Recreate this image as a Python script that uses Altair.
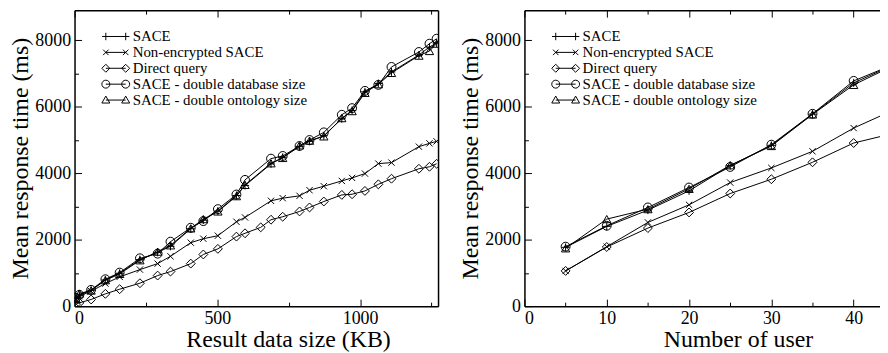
import altair as alt
import pandas as pd

FONT = "Liberation Serif"

SERIES = [
    "SACE",
    "Non-encrypted SACE",
    "Direct query",
    "SACE - double database size",
    "SACE - double ontology size",
]

# ---------- left panel: result data size (KB) ----------
kb_sace = [5, 17, 58, 108, 158, 229, 291, 336, 407, 451, 502, 567, 597, 688, 729, 788, 823, 873, 936, 972, 1017, 1064, 1110, 1206, 1243, 1268]
ms_sace = [230, 330, 480, 790, 990, 1400, 1620, 1800, 2330, 2590, 2860, 3330, 3630, 4280, 4480, 4800, 4960, 5130, 5640, 5890, 6450, 6700, 7050, 7560, 7800, 7920]
ms_db = [250, 340, 490, 810, 1010, 1440, 1580, 1940, 2360, 2560, 2920, 3360, 3800, 4440, 4520, 4820, 5000, 5230, 5760, 5960, 6480, 6660, 7200, 7650, 7900, 8050]
ms_ont = [220, 380, 470, 780, 970, 1380, 1640, 1830, 2340, 2620, 2850, 3310, 3650, 4300, 4460, 4840, 4980, 5110, 5660, 5870, 6420, 6680, 7020, 7540, 7680, 7900]

kb_ne = [5, 17, 58, 108, 158, 229, 291, 336, 407, 451, 502, 567, 597, 688, 729, 788, 823, 873, 936, 972, 1017, 1064, 1110, 1206, 1243, 1268]
ms_ne = [200, 300, 450, 680, 880, 1100, 1280, 1500, 1910, 2030, 2120, 2540, 2670, 3170, 3250, 3320, 3490, 3610, 3770, 3860, 3990, 4290, 4320, 4800, 4900, 4960]

kb_dq = [5, 17, 58, 108, 158, 229, 291, 336, 407, 451, 502, 567, 597, 652, 688, 729, 788, 823, 873, 936, 972, 1017, 1064, 1110, 1206, 1243, 1268]
ms_dq = [60, 100, 200, 370, 510, 690, 920, 1040, 1280, 1555, 1724, 2093, 2193, 2372, 2601, 2691, 2850, 2970, 3149, 3348, 3368, 3468, 3667, 3836, 4135, 4195, 4285]

# ---------- right panel: number of users ----------
users = [5, 10, 15, 20, 25, 30, 35, 40, 45]
u_sace = [1770, 2400, 2890, 3470, 4230, 4840, 5780, 6720, 7280]
u_ne = [1060, 1790, 2520, 3050, 3720, 4160, 4660, 5360, 5920]
u_dq = [1060, 1780, 2350, 2820, 3390, 3820, 4330, 4910, 5210]
u_db = [1790, 2420, 2970, 3570, 4190, 4860, 5790, 6780, 7290]
u_ont = [1740, 2620, 2920, 3530, 4240, 4820, 5770, 6660, 7260]

y_major = [0, 2000, 4000, 6000, 8000]
y_minor = [1000, 3000, 5000, 7000]


def long_df(pairs):
    rows = []
    for name, xs, ys in pairs:
        for xv, yv in zip(xs, ys):
            rows.append({"series": name, "x": xv, "t": yv})
    return pd.DataFrame(rows)


df_left = long_df([
    (SERIES[0], kb_sace, ms_sace),
    (SERIES[1], kb_ne, ms_ne),
    (SERIES[2], kb_dq, ms_dq),
    (SERIES[3], kb_sace, ms_db),
    (SERIES[4], kb_sace, ms_ont),
])
df_right = long_df([
    (SERIES[0], users, u_sace),
    (SERIES[1], users, u_ne),
    (SERIES[2], users, u_dq),
    (SERIES[3], users, u_db),
    (SERIES[4], users, u_ont),
])


def f(v):
    return f"{round(v, 3):g}"


def m_plus(cx, h):
    return f"M{f(cx-h)},0L{f(cx+h)},0M{f(cx)},{f(-h)}L{f(cx)},{f(h)}"


def m_cross(cx, h):
    return f"M{f(cx-h)},{f(-h)}L{f(cx+h)},{f(h)}M{f(cx-h)},{f(h)}L{f(cx+h)},{f(-h)}"


def m_diamond(cx, h):
    return f"M{f(cx-h)},0L{f(cx)},{f(-h)}L{f(cx+h)},0L{f(cx)},{f(h)}Z"


def m_circle(cx, h):
    return f"M{f(cx-h)},0A{f(h)},{f(h)} 0 1,1 {f(cx+h)},0A{f(h)},{f(h)} 0 1,1 {f(cx-h)},0Z"


def m_tri(cx, h):
    return f"M{f(cx)},{f(-h)}L{f(cx+h)},{f(0.75*h)}L{f(cx-h)},{f(0.75*h)}Z"


def leg(marker, h):
    return "M-2,0L2,0" + marker(-2, h) + marker(2, h)


LEGEND_SHAPES = [
    leg(m_plus, 0.75),
    leg(m_cross, 0.55),
    leg(m_diamond, 0.8),
    leg(m_circle, 0.8),
    leg(m_tri, 0.8),
]

MARKERS = [
    dict(shape="M-1,0L1,0M0,-1L0,1", size=64),
    dict(shape="M-1,-1L1,1M-1,1L1,-1", size=40),
    dict(shape="diamond", size=80),
    dict(shape="circle", size=80),
    dict(shape="triangle-up", size=70),
]


def ax(orient, values=None, size=0, labels=False, title=None, domain=False, **kw):
    args = dict(orient=orient, grid=False, domain=domain, labels=labels, title=title,
                ticks=size > 0)
    if values is not None:
        args["values"] = values
    if size > 0:
        args.update(tickSize=size, offset=-size, tickColor="black", tickWidth=1)
    if domain:
        args.update(domainColor="black", domainWidth=1.5)
    args.update(kw)
    return alt.Axis(**args)


TEXT = dict(labelFont=FONT, titleFont=FONT, labelColor="black", titleColor="black",
            titleFontWeight="normal", format="d")


def panel(df, xdomain, xmajor, xminor, xtitle, width, right_border):
    xs = alt.Scale(domain=xdomain, nice=False, zero=False)
    ys = alt.Scale(domain=[0, 8909], nice=False, zero=False)

    def X(a):
        return alt.X("x:Q", scale=xs, axis=a)

    def Y(a):
        return alt.Y("t:Q", scale=ys, axis=a)

    bottom_major = ax("bottom", xmajor, 7, labels=True, title=xtitle,
                      labelFontSize=18, labelPadding=3,
                      titleFontSize=24, titlePadding=1, titleX=215, **TEXT)
    left_major = ax("left", y_major, 7, labels=True, title="Mean response time (ms)",
                    labelFontSize=18, labelPadding=4,
                    titleFontSize=24, titlePadding=2, **TEXT)
    x_axes = [
        bottom_major,
        ax("bottom", xminor, 4),
        ax("top", xmajor, 7),
        ax("top", xminor, 4),
        ax("bottom", domain=True),
        ax("top", domain=True),
    ]
    y_axes = [
        left_major,
        ax("left", y_minor, 4),
        ax("left", domain=True),
        ax("right", domain=True) if right_border else None,
        None,
        None,
    ]

    base = alt.Chart(df)
    layers = [
        base.mark_line(color="black", strokeWidth=1, clip=True).encode(
            x=X(x_axes[0]), y=Y(y_axes[0]), detail="series:N"
        )
    ]
    for i, name in enumerate(SERIES):
        mk = MARKERS[i]
        layers.append(
            base.transform_filter(alt.datum.series == name)
            .mark_point(shape=mk["shape"], size=mk["size"], filled=False,
                        color="black", strokeWidth=1, opacity=1, clip=True)
            .encode(x=X(x_axes[i + 1]), y=Y(y_axes[i + 1]))
        )
    legend_layer = (
        base.transform_filter("false")
        .mark_point(filled=False, color="black", strokeWidth=1, opacity=1)
        .encode(
            shape=alt.Shape(
                "series:N",
                scale=alt.Scale(domain=SERIES, range=LEGEND_SHAPES),
                legend=alt.Legend(
                    orient="none", legendX=34, legendY=19, title=None,
                    labelFont=FONT, labelFontSize=15, labelColor="black",
                    symbolSize=100, symbolStrokeWidth=1, symbolStrokeColor="black",
                    symbolFillColor="transparent", labelOffset=9.5, rowPadding=0,
                    padding=0, labelLimit=400,
                ),
            )
        )
    )
    layers.append(legend_layer)
    return (
        alt.layer(*layers)
        .resolve_axis(x="independent", y="independent")
        .properties(width=width, height=298)
    )


left = panel(df_left, [0, 1273], [0, 500, 1000], [250, 750, 1250],
             "Result data size (KB)", 366, True)
right = panel(df_right, [0, 43.2], [0, 10, 20, 30, 40], [5, 15, 25, 35],
              "Number of user", 358, False)

chart = (
    alt.hconcat(left, right, spacing=20)
    .resolve_scale(shape="independent")
    .resolve_legend(shape="independent")
    .properties(padding=0, background="white")
    .configure_view(stroke=None)
    .configure_axis(labelFont=FONT, titleFont=FONT)
)

chart.save("out.html", embed_options={"renderer": "svg", "actions": False})
